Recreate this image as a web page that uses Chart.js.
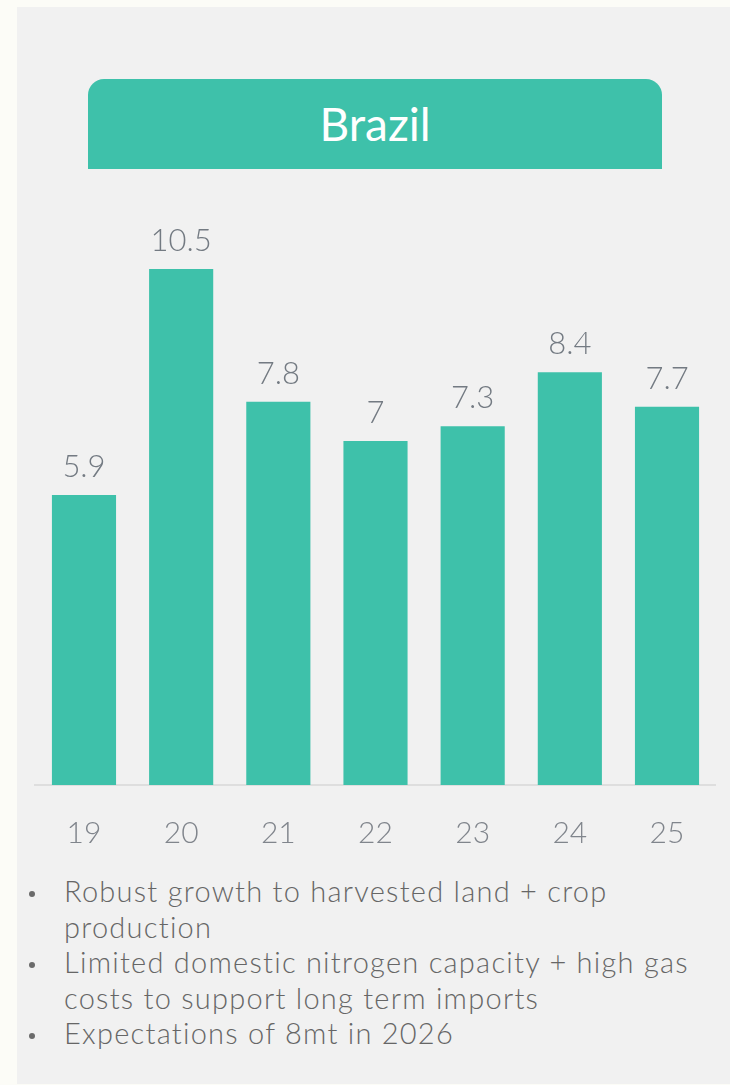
<!DOCTYPE html>
<html>
<head>
<meta charset="utf-8">
<script src="https://cdn.jsdelivr.net/npm/chart.js@4"></script>
<style>
  * { box-sizing: border-box; }
  html, body { margin: 0; padding: 0; background: #fcfcf7; }
  body { width: 730px; height: 1085px; position: relative; overflow: hidden; font-family: Lato, sans-serif; }
  .panel { position: absolute; left: 17px; top: 7px; width: 713px; height: 1077px; background: #f1f1f1; }
  .header {
    position: absolute; left: 88px; top: 79px; width: 574px; height: 90px;
    background: #3ec1aa; border-radius: 16px 16px 0 0;
    color: #fff; font-size: 46px; font-weight: 400; text-align: center; line-height: 90px;
  }
  .chart-wrap { position: absolute; left: 0; top: 190px; width: 730px; height: 670px; }
  ul.notes {
    position: absolute; left: 64px; top: 873px; margin: 0; padding: 0; list-style: none;
    font-size: 29px; line-height: 35.5px; letter-spacing: 1.25px;
    color: #666; font-weight: 300; white-space: nowrap;
  }
  ul.notes li { position: relative; }
  ul.notes li::before {
    content: ""; position: absolute; left: -35px; top: 18px; width: 6px; height: 6px;
    border-radius: 50%; background: #6b6b6b;
  }
</style>
</head>
<body>
<div class="panel"></div>
<div class="header">Brazil</div>
<div class="chart-wrap"><canvas id="chart" width="730" height="670"></canvas></div>
<ul class="notes">
  <li>Robust growth to harvested land + crop<br>production</li>
  <li>Limited domestic nitrogen capacity + high gas<br>costs to support long term imports</li>
  <li>Expectations of 8mt in 2026</li>
</ul>
<script>
const years = ['19', '20', '21', '22', '23', '24', '25'];
const imports = [5.9, 10.5, 7.8, 7, 7.3, 8.4, 7.7];

const barColor = '#3ec1aa';
const labelColor = '#737a82';

// value above each bar
const barValues = {
  id: 'barValues',
  afterDatasetsDraw(chart) {
    const ctx = chart.ctx;
    const meta = chart.getDatasetMeta(0);
    ctx.save();
    ctx.font = '300 31px Lato';
    ctx.fillStyle = labelColor;
    ctx.textAlign = 'center';
    ctx.textBaseline = 'alphabetic';
    meta.data.forEach((bar, i) => {
      ctx.fillText(String(chart.data.datasets[0].data[i]), bar.x, bar.y - 18);
    });
    ctx.restore();
  }
};

new Chart(document.getElementById('chart'), {
  type: 'bar',
  data: {
    labels: years,
    datasets: [{
      data: imports,
      backgroundColor: barColor,
      borderWidth: 0,
      barPercentage: 0.66,
      categoryPercentage: 1
    }]
  },
  options: {
    responsive: false,
    animation: false,
    layout: { padding: { left: 35.4, right: 14.4, top: 5.4, bottom: 15 } },
    plugins: { legend: { display: false }, tooltip: { enabled: false } },
    scales: {
      x: {
        grid: { display: false, drawTicks: false },
        border: { display: true, color: '#dedede', width: 2 },
        ticks: { color: '#80858c', font: { family: 'Lato', size: 30, weight: 300 }, padding: 30 },
        afterFit(axis) { axis.height = 60; }
      },
      y: { display: false, min: 0, max: 12 }
    }
  },
  plugins: [barValues]
});
</script>
</body>
</html>
